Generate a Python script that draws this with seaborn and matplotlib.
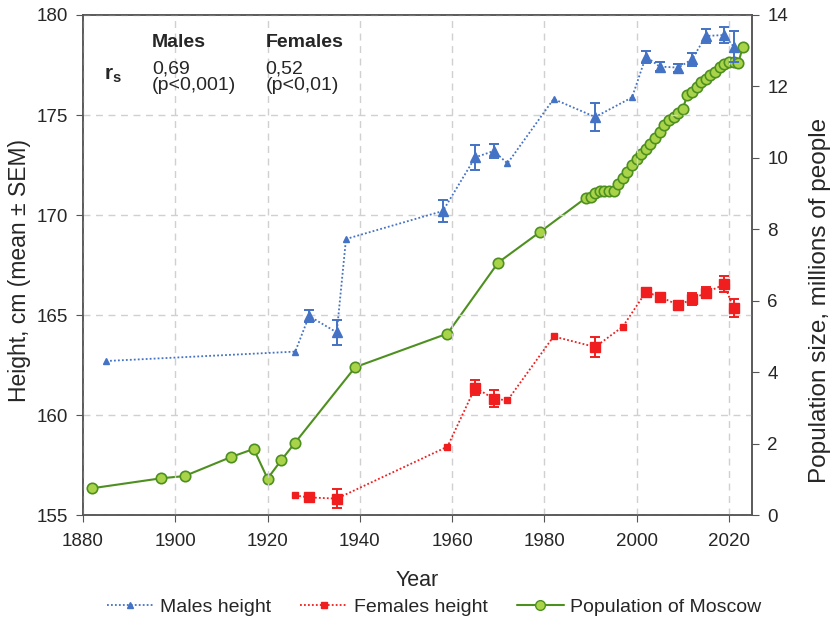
import numpy as np
import pandas as pd
import matplotlib
matplotlib.use("Agg")
import matplotlib.pyplot as plt
import seaborn as sns
from matplotlib.lines import Line2D

# heights of males (mean, SEM); sem=0 -> single value, no error bar
male_years = [1885, 1926, 1929, 1935, 1937, 1958, 1965, 1969, 1972, 1982, 1991, 1999,
              2002, 2005, 2009, 2012, 2015, 2019, 2021]
male_height = [162.7, 163.17, 164.95, 164.13, 168.8, 170.2, 172.88, 173.2, 172.58, 175.8,
               174.9, 175.88, 177.92, 177.42, 177.37, 177.78, 178.95, 179.0, 178.42]
male_sem = [0, 0, 0.3, 0.63, 0, 0.54, 0.62, 0.37, 0, 0, 0.69, 0,
            0.3, 0.23, 0.2, 0.32, 0.33, 0.42, 0.79]

female_years = [1926, 1929, 1935, 1959, 1965, 1969, 1972, 1982, 1991, 1997,
                2002, 2005, 2009, 2012, 2015, 2019, 2021]
female_height = [155.98, 155.88, 155.82, 158.42, 161.37, 160.82, 160.73, 163.93, 163.4, 164.42,
                 166.15, 165.92, 165.5, 165.78, 166.12, 166.53, 165.33]
female_sem = [0, 0.1, 0.49, 0, 0.38, 0.41, 0, 0, 0.49, 0,
              0.19, 0.17, 0.22, 0.3, 0.29, 0.4, 0.45]

# population of Moscow, millions
pop_years = [1882, 1897, 1902, 1912, 1917, 1920, 1923, 1926, 1939, 1959, 1970, 1979,
             1989, 1990, 1991, 1992, 1993, 1994, 1995, 1996, 1997, 1998, 1999, 2000,
             2001, 2002, 2003, 2004, 2005, 2006, 2007, 2008, 2009, 2010, 2011, 2012,
             2013, 2014, 2015, 2016, 2017, 2018, 2019, 2020, 2021, 2022, 2023]
pop_mln = [0.75, 1.03, 1.09, 1.62, 1.85, 1.02, 1.54, 2.03, 4.14, 5.08, 7.07, 7.92,
           8.88, 8.9, 9.01, 9.07, 9.07, 9.07, 9.08, 9.27, 9.43, 9.61, 9.8, 9.96,
           10.11, 10.25, 10.39, 10.56, 10.73, 10.92, 11.06, 11.15, 11.25, 11.38, 11.76, 11.85,
           11.98, 12.11, 12.2, 12.32, 12.41, 12.53, 12.63, 12.68, 12.68, 12.65, 13.1]

males = pd.DataFrame({"year": male_years, "h": male_height, "sem": male_sem})
females = pd.DataFrame({"year": female_years, "h": female_height, "sem": female_sem})
pop = pd.DataFrame({"year": pop_years, "p": pop_mln})

sns.set_style("ticks")
plt.rcParams["font.family"] = ["Liberation Sans", "DejaVu Sans"]
plt.rcParams["mathtext.fontset"] = "custom"
plt.rcParams["mathtext.rm"] = "Liberation Sans"
plt.rcParams["mathtext.bf"] = "Liberation Sans:bold"

c_male = "#4472C4"
c_female = "#F01E1E"
c_green = "#4E9020"
c_green_face = "#A9D44A"

fig = plt.figure(figsize=(8.35, 6.3), dpi=100)
ax = fig.add_axes([0.0994, 0.1825, 0.8012, 0.7937])
ax2 = ax.twinx()

# population (right axis)
sns.lineplot(data=pop, x="year", y="p", ax=ax2, color=c_green, lw=1.5,
             marker="o", markersize=7.5, markerfacecolor=c_green_face,
             markeredgecolor=c_green, markeredgewidth=1.2, zorder=2)

# heights (left axis), drawn over the population
ax.set_zorder(ax2.get_zorder() + 1)
ax.patch.set_visible(False)

for df, col, mk in [(males, c_male, "^"), (females, c_female, "s")]:
    sns.lineplot(data=df, x="year", y="h", ax=ax, color=col, lw=1.3,
                 linestyle=(0, (1, 1.2)), zorder=3)
    big = df[df["sem"] > 0]
    small = df[df["sem"] == 0]
    ax.errorbar(big["year"], big["h"], yerr=big["sem"], fmt=mk, color=col,
                ecolor=col, elinewidth=1.4, capsize=3.5, capthick=1.4,
                markersize=6.5, zorder=4)
    ax.plot(small["year"], small["h"], mk, color=col, markersize=4.5, zorder=4)

ax.set_xlim(1880, 2025)
ax.set_ylim(155, 180)
ax2.set_ylim(0, 14)
ax.set_xticks(range(1880, 2021, 20))
ax.set_yticks(range(155, 181, 5))
ax2.set_yticks(range(0, 15, 2))
ax.grid(True, color="#d0d0d0", ls=(0, (5, 4)), lw=1.0)

ax.set_xlabel("Year", fontsize=15.5, labelpad=14)
ax.set_ylabel("Height, cm (mean ± SEM)", fontsize=16.5)
ax.yaxis.set_label_coords(-0.077, 0.49)
ax2.set_ylabel("Population size, millions of people", fontsize=17.5)
ax2.yaxis.set_label_coords(1.085, 0.43)
ax2.set_xlabel("")
for a in (ax, ax2):
    a.tick_params(labelsize=13.5, length=5, color="#555555", pad=6)
    for s in a.spines.values():
        s.set_color("#555555")
        s.set_linewidth(1.1)
ax.tick_params(axis="x", pad=8)

# Spearman correlation annotation
ax.text(1895, 178.6, "Males", fontsize=14, fontweight="bold", va="center")
ax.text(1919.6, 178.6, "Females", fontsize=14, fontweight="bold", va="center")
ax.text(1884.6, 177.0, r"$\mathbf{r}_\mathbf{s}$", fontsize=15, va="center")
ax.text(1895, 176.9, "0,69\n(p<0,001)", fontsize=14, va="center", linespacing=0.95)
ax.text(1919.6, 176.9, "0,52\n(p<0,01)", fontsize=14, va="center", linespacing=0.95)

handles = [
    Line2D([], [], color=c_male, ls=(0, (1, 1.2)), lw=1.3, marker="^", markersize=4.5),
    Line2D([], [], color=c_female, ls=(0, (1, 1.2)), lw=1.3, marker="s", markersize=5),
    Line2D([], [], color=c_green, lw=1.5, marker="o", markersize=7,
           markerfacecolor=c_green_face, markeredgecolor=c_green),
]
fig.legend(handles, ["Males height", "Females height", "Population of Moscow"],
           loc="center", bbox_to_anchor=(0.52, 0.036), ncol=3, frameon=False,
           fontsize=14, handlelength=2.4, columnspacing=1.5, handletextpad=0.35)

fig.savefig("out.png", dpi=100)
